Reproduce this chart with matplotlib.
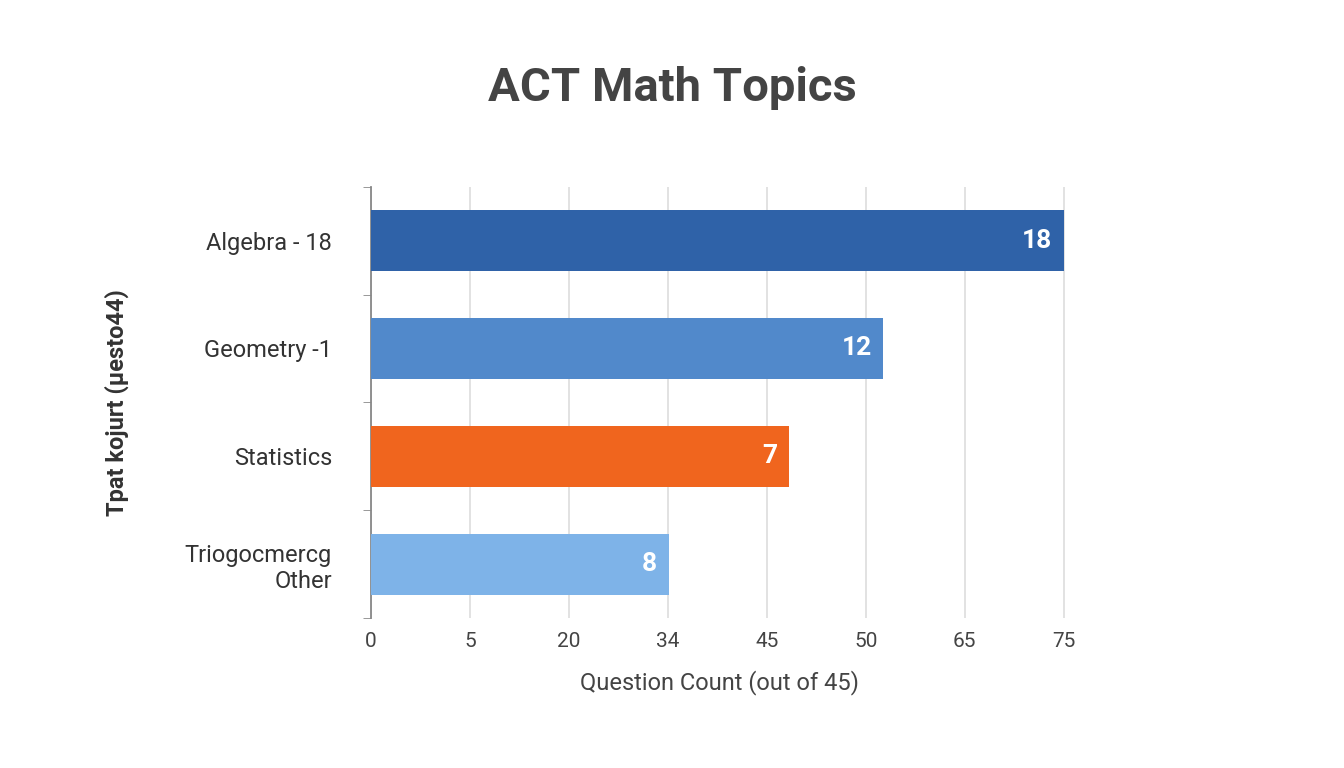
import matplotlib
matplotlib.use("Agg")
import matplotlib.pyplot as plt

categories = ["Algebra - 18", "Geometry -1", "Statistics", "Triogocmercg\nOther"]
bar_positions = [7.0, 5.18, 4.23, 3.01]
bar_labels = ["18", "12", "7", "8"]
colors = ["#2F62A8", "#5189CB", "#F0651E", "#7EB3E8"]
tick_labels = ["0", "5", "20", "34", "45", "50", "65", "75"]

plt.rcParams['font.family'] = ['Roboto', 'DejaVu Sans']
fig = plt.figure(figsize=(13.44, 7.68), dpi=100)
ax = fig.add_axes([0.276, 0.195, 0.519, 0.562])
y = list(range(len(categories)))
ax.barh(y, bar_positions, height=0.56, color=colors, zorder=3)
for yi, v, lab in zip(y, bar_positions, bar_labels):
    ax.text(v - 0.12, yi, lab, ha="right", va="center", color="white",
            fontsize=19, fontweight="bold", zorder=4)
ax.set_ylim(3.5, -0.5)
ax.set_xlim(0, 7.05)
ax.set_xticks(range(len(tick_labels)))
ax.set_xticklabels(tick_labels, fontsize=15, color="#444444")
ax.set_yticks(y)
ax.set_yticklabels(categories, fontsize=17, color="#333333")
ax.set_yticks([-0.5, 0.5, 1.5, 2.5, 3.5], minor=True)
ax.tick_params(axis="y", which="major", length=0, pad=28)
ax.tick_params(axis="y", which="minor", length=6, color="#888888")
ax.tick_params(axis="x", length=0, pad=10)
ax.grid(axis="x", color="#dddddd", linewidth=1.2, zorder=0)
for s in ["top", "right", "bottom"]:
    ax.spines[s].set_visible(False)
ax.spines["left"].set_color("#888888")
ax.spines["left"].set_linewidth(1.3)
ax.set_xlabel("Question Count (out of 45)", fontsize=17, color="#444444", labelpad=14)
ax.set_ylabel("Tpat kojurt (µesto44)", fontsize=17, color="#333333", fontweight="bold", labelpad=40)
fig.text(0.5, 0.885, "ACT Math Topics", ha="center", va="center", fontsize=34,
         fontweight="bold", color="#444444")
fig.savefig("out.png", dpi=100, facecolor="white")
